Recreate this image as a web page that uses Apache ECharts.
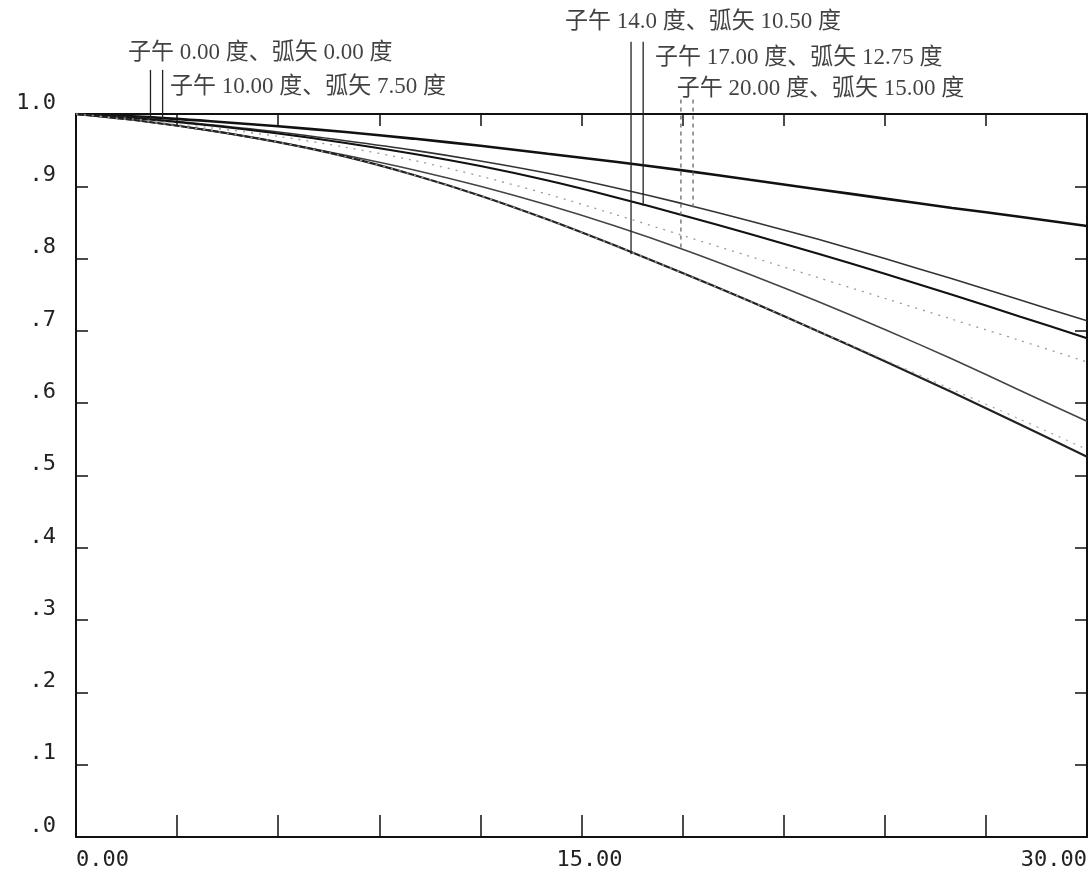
<!DOCTYPE html>
<html>
<head>
<meta charset="utf-8">
<script src="https://cdn.jsdelivr.net/npm/echarts@6/dist/echarts.min.js"></script>
<style>
html,body{margin:0;padding:0;background:#fff;}
#chart{width:1090px;height:884px;}
</style>
</head>
<body>
<div id="chart"></div>
<script>
// spatial frequency (x) samples
const freq = [0, 2, 4, 6, 8, 10, 12, 14, 16, 18, 20, 22, 24, 26, 28, 30];
// MTF curves (top to bottom at the right edge)
const mtfA = [1.000, 0.996, 0.990, 0.983, 0.975, 0.966, 0.956, 0.945, 0.934, 0.922, 0.909, 0.896, 0.883, 0.870, 0.858, 0.845];
const mtfB = [1.000, 0.994, 0.985, 0.975, 0.963, 0.950, 0.935, 0.918, 0.898, 0.876, 0.852, 0.827, 0.800, 0.772, 0.743, 0.714];
const mtfC = [1.000, 0.993, 0.984, 0.973, 0.960, 0.945, 0.928, 0.908, 0.885, 0.860, 0.834, 0.807, 0.779, 0.750, 0.720, 0.690];
const mtfD = [1.000, 0.992, 0.981, 0.969, 0.954, 0.936, 0.914, 0.889, 0.861, 0.832, 0.803, 0.774, 0.745, 0.716, 0.687, 0.657];
const mtfE = [1.000, 0.990, 0.977, 0.961, 0.943, 0.923, 0.900, 0.874, 0.845, 0.813, 0.778, 0.741, 0.702, 0.661, 0.618, 0.575];
const mtfF = [1.000, 0.990, 0.977, 0.961, 0.941, 0.916, 0.887, 0.854, 0.818, 0.780, 0.741, 0.700, 0.658, 0.615, 0.571, 0.526];
const mtfG = [1.000, 0.990, 0.977, 0.961, 0.941, 0.916, 0.887, 0.854, 0.818, 0.780, 0.741, 0.700, 0.660, 0.619, 0.578, 0.536];

// tick labels
const xTickLabels = {0: '0.00', 15: '{mid|15.00}', 30: '30.00'};
const yTickLabels = ['.0', '.1', '.2', '.3', '.4', '.5', '.6', '.7', '.8', '.9', '1.0'];

// field labels (text) and their anchor in data units
const fieldLabels = ['子午 0.00 度、弧矢 0.00 度', '子午 10.00 度、弧矢 7.50 度', '子午 14.0 度、弧矢 10.50 度', '子午 17.00 度、弧矢 12.75 度', '子午 20.00 度、弧矢 15.00 度'];
const fieldLabelX = [1.54, 2.79, 14.51, 17.18, 17.83];
const fieldLabelY = [1.084, 1.037, 1.128, 1.077, 1.035];

// leader lines: x position, top value, bottom value
const leaderX = [2.21, 2.57, 16.47, 16.83, 17.95, 18.31];
const leaderTop = [1.061, 1.061, 1.100, 1.100, 1.020, 1.020];
const leaderBottom = [0.993, 0.993, 0.806, 0.873, 0.814, 0.871];
const leaderDashed = [false, false, false, false, true, true];

const pairs = arr => freq.map((f, i) => [f, arr[i]]);

const curveStyles = [
  {data: mtfA, color: '#111', width: 2.6, type: 'solid'},
  {data: mtfB, color: '#333', width: 1.6, type: 'solid'},
  {data: mtfC, color: '#111', width: 2.1, type: 'solid'},
  {data: mtfD, color: '#9a9a9a', width: 1.3, type: [2, 6]},
  {data: mtfE, color: '#444', width: 1.6, type: 'solid'},
  {data: mtfF, color: '#222', width: 2.2, type: 'solid'},
  {data: mtfG, color: '#aaaaaa', width: 1.3, type: [2, 6]}
];

const series = curveStyles.map(c => ({
  type: 'line',
  data: pairs(c.data),
  smooth: 0.3,
  showSymbol: false,
  symbol: 'none',
  lineStyle: {color: c.color, width: c.width, type: c.type},
  z: 3
}));

leaderX.forEach((x, i) => {
  series.push({
    type: 'line',
    data: [[x, leaderTop[i]], [x, leaderBottom[i]]],
    clip: false,
    showSymbol: false,
    symbol: 'none',
    lineStyle: {color: leaderDashed[i] ? '#666' : '#222', width: 1.3, type: leaderDashed[i] ? [4, 4] : 'solid'},
    z: 4
  });
});

series.push({
  type: 'scatter',
  data: fieldLabels.map((t, i) => ({value: [fieldLabelX[i], fieldLabelY[i]], name: t})),
  symbolSize: 0,
  clip: false,
  silent: true,
  label: {
    show: true,
    position: 'inside',
    align: 'left',
    verticalAlign: 'middle',
    formatter: p => p.name,
    fontFamily: '"Liberation Serif", "Noto Sans CJK SC", serif',
    fontSize: 23,
    color: '#111'
  },
  z: 5
});

const axisLineStyle = {color: '#111', width: 2};
const option = {
  animation: false,
  backgroundColor: '#fff',
  grid: {left: 76, right: 3, top: 114, bottom: 47, containLabel: false},
  xAxis: [
    {
      type: 'value', min: 0, max: 30, interval: 3, position: 'bottom',
      axisLine: {show: true, onZero: false, lineStyle: axisLineStyle},
      axisTick: {show: true, inside: true, length: 22, lineStyle: {color: '#111', width: 1.5}},
      splitLine: {show: false},
      axisLabel: {
        show: true, margin: 12,
        formatter: v => xTickLabels[v] || '',
        fontFamily: '"DejaVu Sans Mono", monospace', fontSize: 22, color: '#222',
        rich: {mid: {fontFamily: '"DejaVu Sans Mono", monospace', fontSize: 22, color: '#222', padding: [0, 0, 0, 16]}},
        alignMinLabel: 'left', alignMaxLabel: 'right', showMinLabel: true, showMaxLabel: true
      }
    },
    {
      type: 'value', min: 0, max: 30, interval: 3, position: 'top',
      axisLine: {show: true, onZero: false, lineStyle: axisLineStyle},
      axisTick: {show: true, inside: true, length: 12, lineStyle: {color: '#111', width: 1.5}},
      splitLine: {show: false},
      axisLabel: {show: false}
    }
  ],
  yAxis: [
    {
      type: 'value', min: 0, max: 1, interval: 0.1, position: 'left',
      axisLine: {show: true, onZero: false, lineStyle: axisLineStyle},
      axisTick: {show: true, inside: true, length: 12, lineStyle: {color: '#111', width: 1.5}},
      splitLine: {show: false},
      axisLabel: {
        show: true, margin: 20, verticalAlign: 'bottom',
        formatter: v => yTickLabels[Math.round(v * 10)],
        fontFamily: '"DejaVu Sans Mono", monospace', fontSize: 22, color: '#222'
      }
    },
    {
      type: 'value', min: 0, max: 1, interval: 0.1, position: 'right',
      axisLine: {show: true, onZero: false, lineStyle: axisLineStyle},
      axisTick: {show: true, inside: true, length: 12, lineStyle: {color: '#111', width: 1.5}},
      splitLine: {show: false},
      axisLabel: {show: false}
    }
  ],
  series: series
};

const chart = echarts.init(document.getElementById('chart'), null, {renderer: 'canvas'});
chart.setOption(option);
</script>
</body>
</html>
